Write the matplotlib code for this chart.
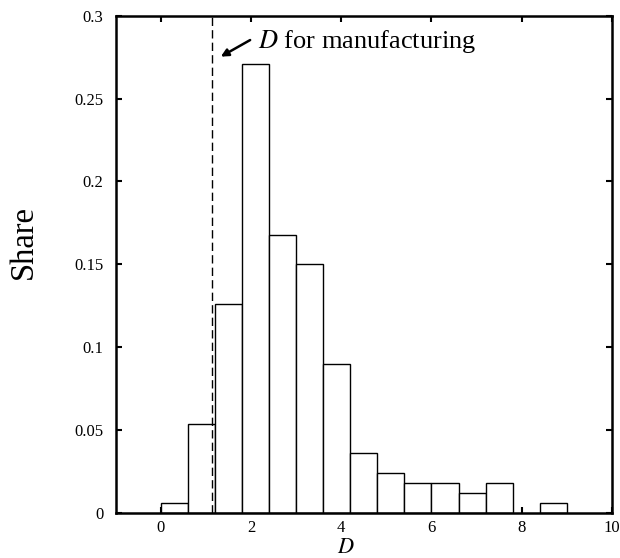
import numpy as np
import matplotlib.pyplot as plt

plt.rcParams['font.family'] = ['Liberation Serif', 'DejaVu Serif']
plt.rcParams['mathtext.fontset'] = 'stix'

# histogram data: bin edges (width 0.6) and share per bin
bin_edges = [0.0, 0.6, 1.2, 1.8, 2.4, 3.0, 3.6, 4.2, 4.8, 5.4, 6.0, 6.6, 7.2, 7.8, 8.4, 9.0]
shares = [0.006, 0.054, 0.126, 0.271, 0.168, 0.150, 0.090, 0.036,
          0.024, 0.018, 0.018, 0.012, 0.018, 0.0, 0.006]
d_manufacturing = 1.13

x_ticks = [0, 2, 4, 6, 8, 10]
y_ticks = [0, 0.05, 0.1, 0.15, 0.2, 0.25, 0.3]
y_tick_labels = ['0', '0.05', '0.1', '0.15', '0.2', '0.25', '0.3']

fig = plt.figure(figsize=(6.2, 5.58), dpi=100)
ax = fig.add_axes([0.1866, 0.0806, 0.8004, 0.8913])

lefts = np.array(bin_edges[:-1])
widths = np.diff(bin_edges)
heights = np.array(shares)
nonzero = heights > 0
ax.bar(lefts[nonzero], heights[nonzero], width=widths[nonzero], align='edge',
       facecolor='white', edgecolor='black', linewidth=1.0, zorder=2)

# dashed line for manufacturing D
ax.axvline(d_manufacturing, color='black', linestyle=(0, (6, 3)), linewidth=1.0, zorder=3)

# label and arrow
ax.text(2.15, 0.2807, '$D$ for manufacturing', fontsize=19, va='baseline', ha='left')
ax.annotate('', xy=(1.33, 0.2753), xytext=(1.98, 0.2853),
            arrowprops=dict(arrowstyle='-|>', color='black', lw=1.8,
                            mutation_scale=11, shrinkA=0, shrinkB=0))

ax.set_xlim(-1, 10)
ax.set_ylim(0, 0.3)
ax.set_xticks(x_ticks)
ax.set_yticks(y_ticks)
ax.set_yticklabels(y_tick_labels)

ax.tick_params(direction='in', length=4, width=1.5, labelsize=12,
               top=True, right=True)
ax.tick_params(axis='x', pad=5)
ax.tick_params(axis='y', pad=9)
for s in ax.spines.values():
    s.set_linewidth(1.8)

fig.text(24 / 620, 1 - 241.5 / 558, 'Share', fontsize=23.5, rotation=90,
         ha='center', va='center')
fig.text(346 / 620, 1 - 558 / 558, '$D$', fontsize=16, ha='center', va='bottom')

fig.savefig('out.png', dpi=100)
